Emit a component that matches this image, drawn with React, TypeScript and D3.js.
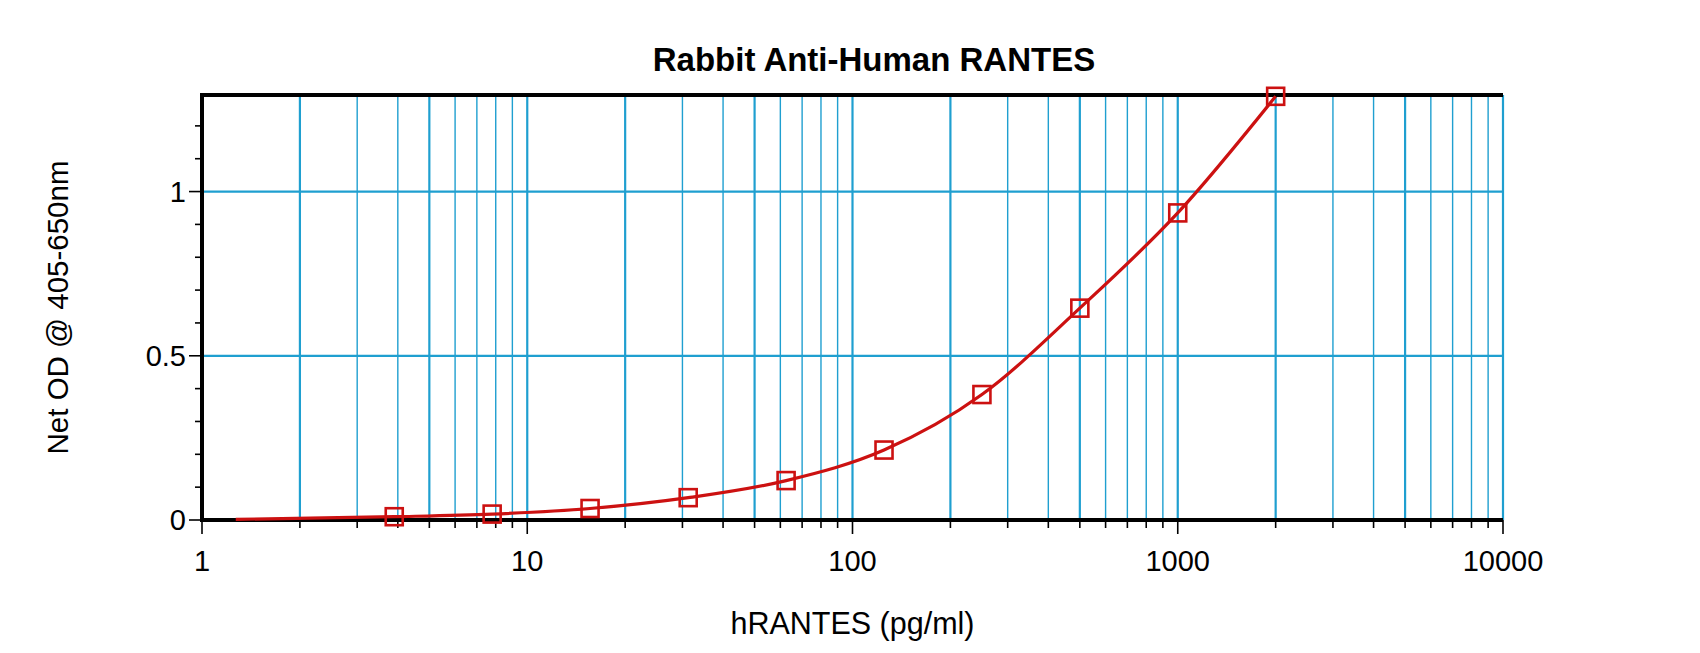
import React, { useRef, useEffect } from "react";
import * as d3 from "d3";

// standard concentrations (pg/ml) and net OD readings
const concentrations = [3.9, 7.8, 15.6, 31.25, 62.5, 125, 250, 500, 1000, 2000];
const odValues = [0.01, 0.018, 0.035, 0.068, 0.12, 0.213, 0.382, 0.645, 0.935, 1.29];
// fitted curve starts just right of x = 1
const curveStart = { conc: 1.27, od: 0.002 };

const xTickLabels = ["1", "10", "100", "1000", "10000"];
const yTickValues = [0, 0.5, 1];
const yTickLabels = ["0", "0.5", "1"];

export default function App() {
  const svgRef = useRef<SVGSVGElement>(null);

  useEffect(() => {
    if (!svgRef.current) return;
    d3.select(svgRef.current).selectAll("*").remove();

    const width = 1700;
    const height = 653;
    const margin = { top: 95, right: 197, bottom: 133, left: 202 };
    const innerWidth = width - margin.left - margin.right;
    const innerHeight = height - margin.top - margin.bottom;
    const font = "'Liberation Sans', Arial, sans-serif";
    const gridColor = "#1f9fd0";
    const red = "#cc1111";

    const xScale = d3.scaleLog().domain([1, 10000]).range([0, innerWidth]);
    const yScale = d3.scaleLinear().domain([0, 1.294]).range([innerHeight, 0]);

    const svg = d3
      .select(svgRef.current)
      .attr("width", width)
      .attr("height", height)
      .style("position", "absolute")
      .style("left", 0)
      .style("top", 0);

    svg.append("rect").attr("width", width).attr("height", height).attr("fill", "white");

    const g = svg.append("g").attr("transform", `translate(${margin.left},${margin.top})`);

    // vertical grid (every 1..9 in each decade)
    const xGrid: number[] = [];
    for (let p = 0; p < 4; p++) {
      for (let m = 1; m <= 9; m++) {
        const v = m * Math.pow(10, p);
        if (v > 1) xGrid.push(v);
      }
    }
    xGrid.push(10000);

    g.selectAll(".xgrid")
      .data(xGrid)
      .enter()
      .append("line")
      .attr("x1", (d) => xScale(d))
      .attr("x2", (d) => xScale(d))
      .attr("y1", 0)
      .attr("y2", innerHeight)
      .attr("stroke", gridColor)
      .attr("stroke-width", (d) => {
        const m = Math.round(d / Math.pow(10, Math.floor(Math.log10(d) + 1e-9)));
        return m === 1 || m === 2 || m === 5 ? 2.2 : 1.4;
      });

    // horizontal grid at labelled values
    g.selectAll(".ygrid")
      .data(yTickValues.filter((v) => v > 0))
      .enter()
      .append("line")
      .attr("x1", 0)
      .attr("x2", innerWidth)
      .attr("y1", (d) => yScale(d))
      .attr("y2", (d) => yScale(d))
      .attr("stroke", gridColor)
      .attr("stroke-width", 2.2);

    // axes lines
    g.append("line")
      .attr("x1", 0).attr("x2", innerWidth)
      .attr("y1", 0).attr("y2", 0)
      .attr("stroke", "black").attr("stroke-width", 4);
    g.append("line")
      .attr("x1", -2).attr("x2", innerWidth)
      .attr("y1", innerHeight).attr("y2", innerHeight)
      .attr("stroke", "black").attr("stroke-width", 4);
    g.append("line")
      .attr("x1", 0).attr("x2", 0)
      .attr("y1", -2).attr("y2", innerHeight + 2)
      .attr("stroke", "black").attr("stroke-width", 4);

    // x ticks
    const xMajor = xTickLabels.map((t) => +t);
    const xMinor = xGrid.filter((v) => !xMajor.includes(v));
    g.selectAll(".xminor")
      .data(xMinor)
      .enter()
      .append("line")
      .attr("x1", (d) => xScale(d)).attr("x2", (d) => xScale(d))
      .attr("y1", innerHeight).attr("y2", innerHeight + 8)
      .attr("stroke", "black").attr("stroke-width", 1.6);
    g.selectAll(".xmajor")
      .data(xMajor)
      .enter()
      .append("line")
      .attr("x1", (d) => xScale(d)).attr("x2", (d) => xScale(d))
      .attr("y1", innerHeight).attr("y2", innerHeight + 14)
      .attr("stroke", "black").attr("stroke-width", 1.6);
    g.selectAll(".xlabel")
      .data(xTickLabels)
      .enter()
      .append("text")
      .attr("x", (d) => xScale(+d))
      .attr("y", innerHeight + 51)
      .attr("text-anchor", "middle")
      .style("font-family", font)
      .style("font-size", "29px")
      .text((d) => d);

    // y ticks
    const yMinor = d3
      .range(1, 13)
      .map((i) => i / 10)
      .filter((v) => Math.abs(v - 0.5) > 1e-6 && Math.abs(v - 1) > 1e-6);
    g.selectAll(".yminor")
      .data(yMinor)
      .enter()
      .append("line")
      .attr("x1", -7).attr("x2", 0)
      .attr("y1", (d) => yScale(d)).attr("y2", (d) => yScale(d))
      .attr("stroke", "black").attr("stroke-width", 1.6);
    g.selectAll(".ymajor")
      .data(yTickValues)
      .enter()
      .append("line")
      .attr("x1", -13).attr("x2", 0)
      .attr("y1", (d) => yScale(d)).attr("y2", (d) => yScale(d))
      .attr("stroke", "black").attr("stroke-width", 1.6);
    g.selectAll(".ylabel")
      .data(yTickValues)
      .enter()
      .append("text")
      .attr("x", -16)
      .attr("y", (d) => yScale(d) + 10)
      .attr("text-anchor", "end")
      .style("font-family", font)
      .style("font-size", "29px")
      .text((_, i) => yTickLabels[i]);

    // fitted curve
    const points = concentrations.map((c, i) => ({ conc: c, od: odValues[i] }));
    const line = d3
      .line<{ conc: number; od: number }>()
      .x((d) => xScale(d.conc))
      .y((d) => yScale(d.od))
      .curve(d3.curveMonotoneX);
    g.append("path")
      .datum([curveStart, ...points])
      .attr("fill", "none")
      .attr("stroke", red)
      .attr("stroke-width", 3.2)
      .attr("d", line);

    // markers
    const s = 17;
    g.selectAll(".marker")
      .data(points)
      .enter()
      .append("rect")
      .attr("x", (d) => xScale(d.conc) - s / 2)
      .attr("y", (d) => yScale(d.od) - s / 2)
      .attr("width", s)
      .attr("height", s)
      .attr("fill", "none")
      .attr("stroke", red)
      .attr("stroke-width", 2.6);

    // titles
    svg.append("text")
      .attr("x", 874)
      .attr("y", 71)
      .attr("text-anchor", "middle")
      .style("font-family", font)
      .style("font-weight", "bold")
      .style("font-size", "33px")
      .text("Rabbit Anti-Human RANTES");

    svg.append("text")
      .attr("x", margin.left + innerWidth / 2)
      .attr("y", 634)
      .attr("text-anchor", "middle")
      .style("font-family", font)
      .style("font-size", "30.5px")
      .text("hRANTES (pg/ml)");

    svg.append("text")
      .attr("transform", `translate(68, ${margin.top + innerHeight / 2}) rotate(-90)`)
      .attr("text-anchor", "middle")
      .style("font-family", font)
      .style("font-size", "29.5px")
      .text("Net OD @ 405-650nm");
  }, []);

  return <svg ref={svgRef}></svg>;
}
